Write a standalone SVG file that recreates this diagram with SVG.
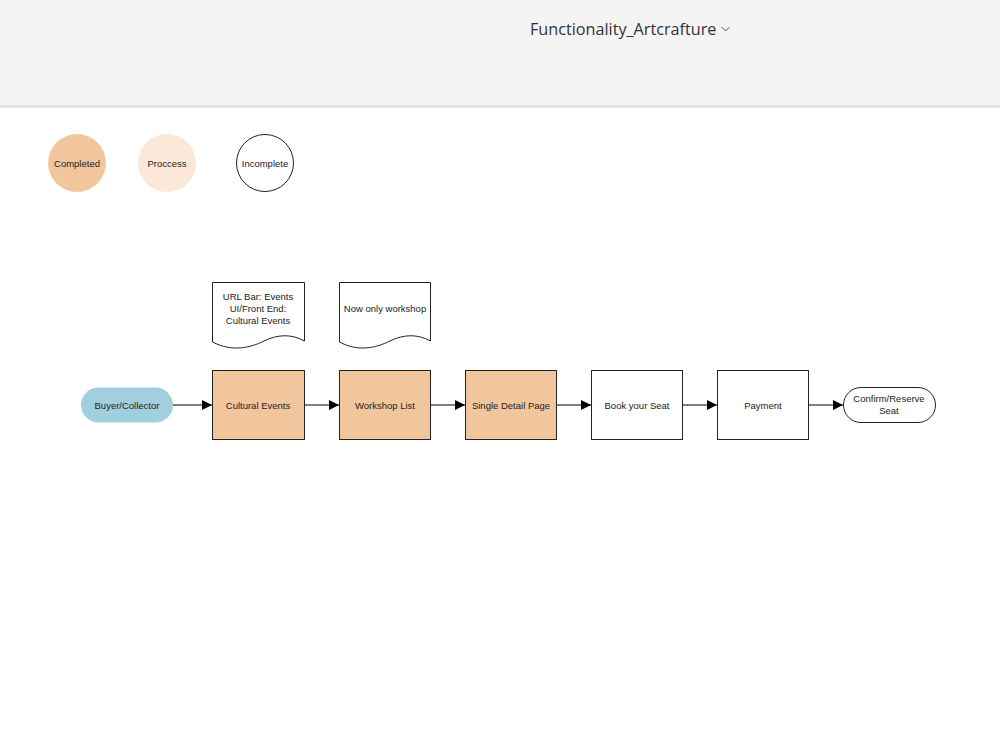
<svg xmlns="http://www.w3.org/2000/svg" width="1000" height="750" viewBox="0 0 1000 750">
  <defs>
    <marker id="arrow" viewBox="0 0 10 10" refX="10" refY="5" markerWidth="10" markerHeight="10" markerUnits="userSpaceOnUse" orient="auto">
      <path d="M0,0 L10,5 L0,10 Z" fill="#000"/>
    </marker>
    <style>
      .lbl { font-family: "Liberation Sans", Arial, sans-serif; font-size: 9.5px; fill: #222; text-anchor: middle; }
      .box { stroke: #222; stroke-width: 1; }
      .done { fill: #f2c69d; }
      .todo { fill: #ffffff; }
      .doc { fill: #ffffff; stroke: #222; stroke-width: 1; }
      .edge { stroke: #000; stroke-width: 1; fill: none; marker-end: url(#arrow); }
    </style>
  </defs>

  <!-- page background and title bar -->
  <rect x="0" y="0" width="1000" height="750" fill="#ffffff"/>
  <rect x="0" y="0" width="1000" height="106" fill="#f4f4f4"/>
  <line x1="0" y1="106.5" x2="1000" y2="106.5" stroke="#d9d9d9" stroke-width="2"/>
  <g id="title">
    <text x="530" y="35" font-family="'Open Sans', 'Noto Sans', sans-serif" font-size="16.2" fill="#333">Functionality_Artcrafture</text>
    <path d="M721.5,27 L725.5,31 L729.5,27" fill="none" stroke="#555" stroke-width="1"/>
  </g>

  <!-- legend -->
  <g id="legend-completed">
    <circle cx="77" cy="163" r="29" fill="#f2c69d"/>
    <text class="lbl" x="77" y="166.5">Completed</text>
  </g>
  <g id="legend-process">
    <circle cx="167" cy="163" r="29" fill="#fbe8d9"/>
    <text class="lbl" x="167" y="166.5">Proccess</text>
  </g>
  <g id="legend-incomplete">
    <circle cx="265" cy="163" r="28.5" fill="#ffffff" stroke="#222" stroke-width="1"/>
    <text class="lbl" x="265" y="166.5">Incomplete</text>
  </g>

  <!-- annotation documents -->
  <g id="note-cultural">
    <path class="doc" d="M212.5,282.5 H304.5 V341 C292,334 278,334 264,341 C250,348 232,352 212.5,342 Z"/>
    <text class="lbl" x="258" y="300">URL Bar: Events</text>
    <text class="lbl" x="258" y="312">UI/Front End:</text>
    <text class="lbl" x="258" y="324">Cultural Events</text>
  </g>
  <g id="note-workshop">
    <path class="doc" d="M339.5,282.5 H430.5 V341 C418,334 404,334 390,341 C376,348 358,352 339.5,342 Z"/>
    <text class="lbl" x="385" y="312">Now only workshop</text>
  </g>

  <!-- connectors -->
  <g id="connectors">
    <line class="edge" x1="173" y1="405" x2="212" y2="405"/>
    <line class="edge" x1="304" y1="405" x2="339" y2="405"/>
    <line class="edge" x1="430" y1="405" x2="465" y2="405"/>
    <line class="edge" x1="556" y1="405" x2="591" y2="405"/>
    <line class="edge" x1="682" y1="405" x2="717" y2="405"/>
    <line class="edge" x1="808" y1="405" x2="843" y2="405"/>
  </g>

  <!-- flow nodes -->
  <g id="buyer">
    <rect x="81" y="387.5" width="92" height="35" rx="17.5" fill="#a2cfdd"/>
    <text class="lbl" x="127" y="408.5">Buyer/Collector</text>
  </g>
  <g id="cultural-events">
    <rect class="box done" x="212.5" y="370.5" width="92" height="69"/>
    <text class="lbl" x="258" y="408.5">Cultural Events</text>
  </g>
  <g id="workshop-list">
    <rect class="box done" x="339.5" y="370.5" width="91" height="69"/>
    <text class="lbl" x="385" y="408.5">Workshop List</text>
  </g>
  <g id="single-detail">
    <rect class="box done" x="465.5" y="370.5" width="91" height="69"/>
    <text class="lbl" x="511" y="408.5">Single Detail Page</text>
  </g>
  <g id="book-seat">
    <rect class="box todo" x="591.5" y="370.5" width="91" height="69"/>
    <text class="lbl" x="637" y="408.5">Book your Seat</text>
  </g>
  <g id="payment">
    <rect class="box todo" x="717.5" y="370.5" width="91" height="69"/>
    <text class="lbl" x="763" y="408.5">Payment</text>
  </g>
  <g id="confirm">
    <rect x="843.5" y="387.5" width="92" height="35" rx="17.5" fill="#ffffff" stroke="#222" stroke-width="1"/>
    <text class="lbl" x="889" y="402">Confirm/Reserve</text>
    <text class="lbl" x="889" y="414">Seat</text>
  </g>
</svg>
